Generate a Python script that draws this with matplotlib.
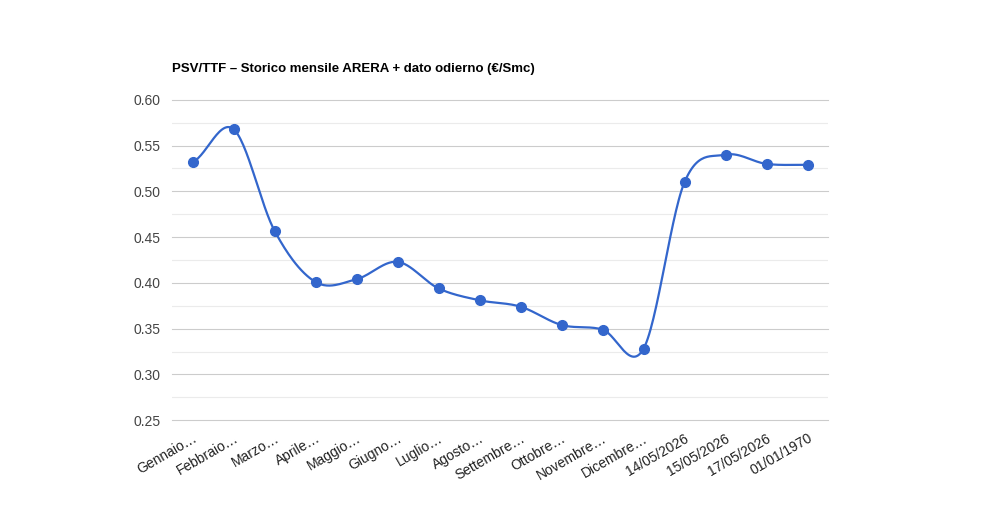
import numpy as np
import matplotlib
matplotlib.use("Agg")
import matplotlib.pyplot as plt
plt.rcParams['font.family'] = ['Liberation Sans', 'DejaVu Sans']

labels = ["Gennaio…", "Febbraio…", "Marzo…", "Aprile…", "Maggio…", "Giugno…", "Luglio…",
          "Agosto…", "Settembre…", "Ottobre…", "Novembre…", "Dicembre…",
          "14/05/2026", "15/05/2026", "17/05/2026", "01/01/1970"]
values = [0.532, 0.568, 0.457, 0.401, 0.404, 0.423, 0.394, 0.381, 0.374, 0.354,
          0.349, 0.328, 0.510, 0.540, 0.530, 0.529]

def catmull(x, y, n=30):
    x = np.asarray(x, float); y = np.asarray(y, float)
    px = np.concatenate([[x[0]], x, [x[-1]]]); py = np.concatenate([[y[0]], y, [y[-1]]])
    ox, oy = [], []
    for i in range(1, len(px) - 2):
        t = np.linspace(0, 1, n)
        p0, p1, p2, p3 = py[i-1], py[i], py[i+1], py[i+2]
        oy.append(0.5*((2*p1) + (-p0+p2)*t + (2*p0-5*p1+4*p2-p3)*t**2 + (-p0+3*p1-3*p2+p3)*t**3))
        ox.append(px[i] + (px[i+1]-px[i])*t)
    return np.concatenate(ox), np.concatenate(oy)

fig = plt.figure(figsize=(10, 5.2), dpi=100)
ax = fig.add_axes([0.172, 0.192, 0.656, 0.616])
x = np.arange(len(values))
cx, cy = catmull(x, values)
ax.plot(cx, cy, color="#3366cc", lw=1.6, zorder=3, clip_on=False)
ax.plot(x, values, "o", color="#3366cc", ms=7, zorder=4, clip_on=False)
ax.set_xlim(-0.5, len(values) - 0.5)
ax.set_ylim(0.25, 0.60)
yt = np.arange(0.25, 0.601, 0.05)
ax.set_yticks(yt)
ax.set_yticklabels([f"{v:.2f}" for v in yt], color="#444444", fontsize=10)
for v in np.arange(0.275, 0.60, 0.05):
    ax.axhline(v, color="#ebebeb", lw=0.8, zorder=0)
for v in yt:
    ax.axhline(v, color="#cccccc", lw=0.8, zorder=1, clip_on=False)
ax.set_xticks(x)
ax.set_xticklabels(labels, rotation=30, ha="right", rotation_mode="anchor", fontsize=10, color="#222222")
ax.tick_params(length=0, pad=8)
for s in ax.spines.values():
    s.set_visible(False)
fig.text(0.172, 0.862, "PSV/TTF – Storico mensile ARERA + dato odierno (€/Smc)",
         fontsize=9.5, fontweight="bold", color="#000000")
fig.savefig("out.png", dpi=100)
